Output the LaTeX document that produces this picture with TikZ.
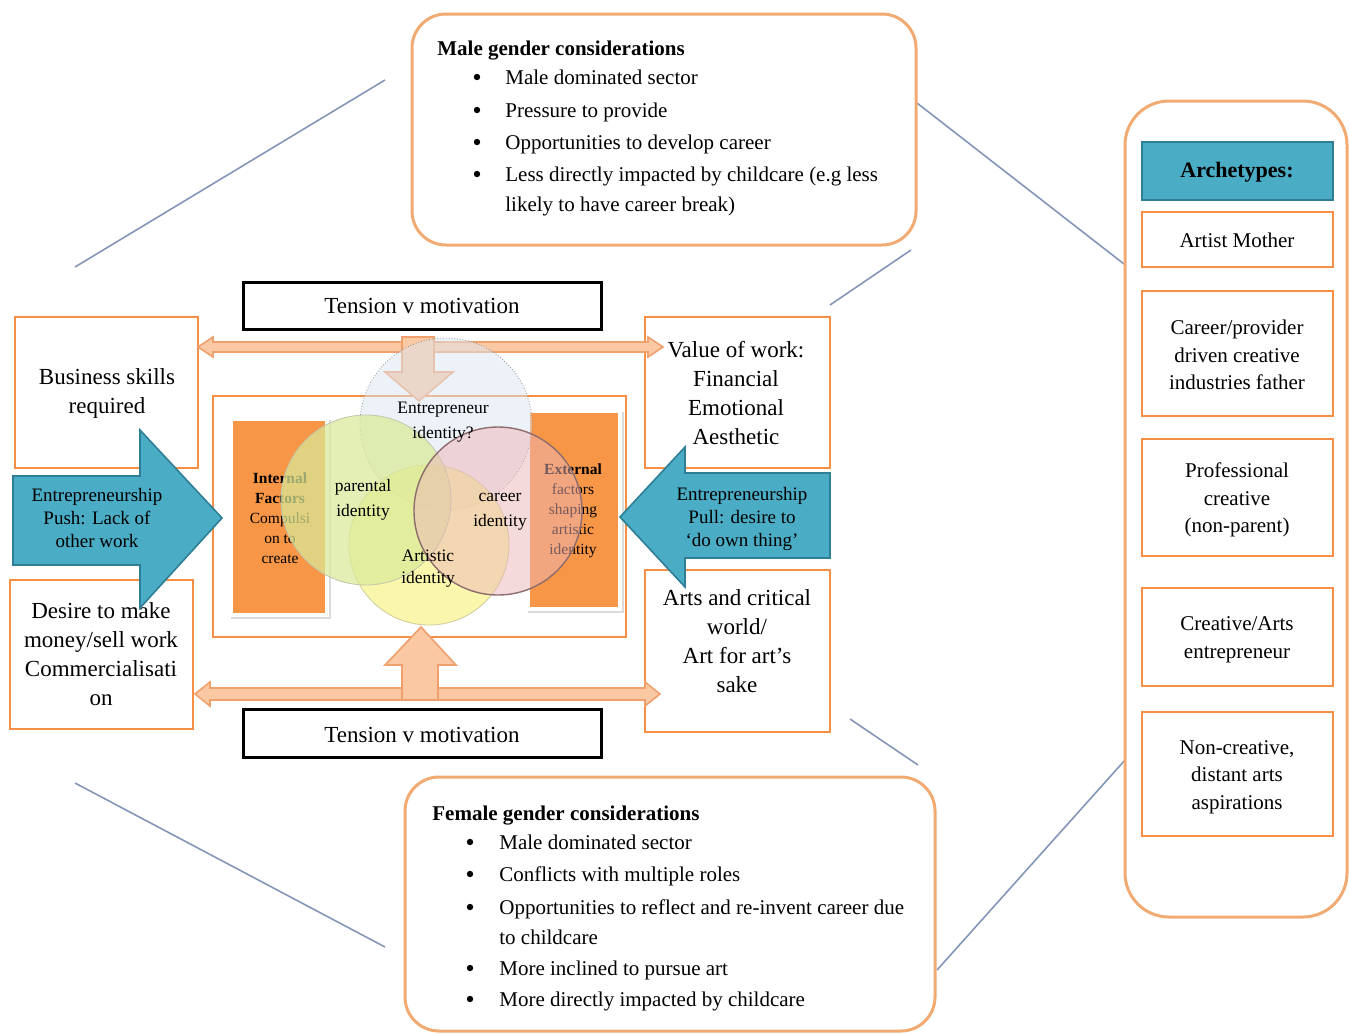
\documentclass[tikz,border=0pt]{standalone}
\usepackage{fontspec}
\setmainfont{Liberation Serif}
\usetikzlibrary{fit}

\definecolor{frameorange}{HTML}{F0AA72}
\definecolor{boxorange}{HTML}{F58F45}
\definecolor{fillorange}{HTML}{F79646}
\definecolor{tealfill}{HTML}{4BACC6}
\definecolor{tealline}{HTML}{2E7F95}
\definecolor{peachfill}{HTML}{FAC8A2}
\definecolor{peachline}{HTML}{EFA06C}
\definecolor{linkblue}{HTML}{8496B8}
\definecolor{entfill}{HTML}{DCE6F2}
\definecolor{parfill}{HTML}{D9EA98}
\definecolor{artfill}{HTML}{F8F480}
\definecolor{carfill}{HTML}{EDB6B8}

\newcommand\bitem[5]{%
  \node[bul] at (#2,#4) {};
  \node[item] (#1) at (#3,#4) {#5};}

\begin{document}
\begin{tikzpicture}[x=0.5pt,y=-0.5pt,
  frame/.style={draw=frameorange, line width=1.5pt, rounded corners=17pt, fill=white, inner sep=0pt},
  obox/.style={draw=boxorange, line width=1.4pt, fill=white, inner sep=0pt},
  tbox/.style={draw=black, line width=1.5pt, fill=white, inner sep=0pt},
  abox/.style={draw=boxorange, line width=1.4pt, fill=white, inner sep=0pt},
  atxt/.style={align=center, inner sep=0pt, font=\fontsize{10.5}{13.75}\selectfont},
  btxt/.style={align=center, inner sep=0pt, font=\fontsize{11.5}{14.5}\selectfont},
  ttxt/.style={align=center, inner sep=0pt, font=\fontsize{9.5}{11.5}\selectfont},
  ctxt/.style={align=center, inner sep=0pt, font=\fontsize{8.75}{12.5}\selectfont},
  rtxt/.style={align=center, inner sep=0pt, font=\fontsize{7.75}{10}\selectfont},
  head/.style={anchor=west, inner sep=0pt, text height=0.7em, text depth=0pt,
    font=\fontsize{10.5}{13}\selectfont\bfseries},
  item/.style={anchor=west, inner sep=0pt, text height=0.7em, text depth=0pt,
    font=\fontsize{10.5}{13}\selectfont},
  bul/.style={circle, fill=black, inner sep=0pt, minimum size=3.2pt},
  link/.style={draw=linkblue, line width=0.8pt},
  peach/.style={fill=peachfill, draw=peachline, line width=0.8pt},
  tealarrow/.style={fill=tealfill, draw=tealline, line width=0.8pt},
  venn/.style={circle, inner sep=0pt, minimum size=#1}
]
\useasboundingbox (0,0) rectangle (1349,1034);

% thin connecting lines between the gender panels and the rest
\coordinate (l1a) at (75,267);   \coordinate (l1b) at (385,80);
\coordinate (l2a) at (917,103);  \coordinate (l2b) at (1124,264);
\coordinate (l3a) at (830,305);  \coordinate (l3b) at (911,250);
\coordinate (l4a) at (75,783);   \coordinate (l4b) at (385,947);
\coordinate (l5a) at (850,719);  \coordinate (l5b) at (918,765);
\coordinate (l6a) at (937,970);  \coordinate (l6b) at (1125,760);
\foreach \a/\b in {l1a/l1b,l2a/l2b,l3a/l3b,l4a/l4b,l5a/l5b,l6a/l6b}
  \draw[link] (\a) -- (\b);

% male gender panel
\node[frame, fit={(412,14) (916,245)}] (male) {};
\node[head] (maletitle) at (437,48) {Male gender considerations};
\bitem{m1}{477}{505}{77}{Male dominated sector}
\bitem{m2}{477}{505}{110}{Pressure to provide}
\bitem{m3}{477}{505}{142}{Opportunities to develop career}
\bitem{m4}{477}{505}{174}{Less directly impacted by childcare (e.g less}
\node[item] (m4b) at (505,204) {likely to have career break)};

% female gender panel
\node[frame, fit={(405,777) (935,1031)}] (female) {};
\node[head] (femaletitle) at (432,813) {Female gender considerations};
\bitem{f1}{470}{499}{842}{Male dominated sector}
\bitem{f2}{470}{499}{874}{Conflicts with multiple roles}
\bitem{f3}{470}{499}{907}{Opportunities to reflect and re-invent career due}
\node[item] (f3b) at (499,937) {to childcare};
\bitem{f4}{470}{499}{968}{More inclined to pursue art}
\bitem{f5}{470}{499}{999}{More directly impacted by childcare}

% archetypes column
\node[frame, rounded corners=22pt, fit={(1125,101) (1347,917)}] (arch) {};
\node[fill=tealfill, draw=tealline, line width=0.8pt, inner sep=0pt, fit={(1142,142) (1333,200)}] (archhead) {};
\node[inner sep=0pt, font=\fontsize{11}{13}\selectfont\bfseries] at (1237,172) {Archetypes:};
\node[abox, fit={(1142,212) (1333,267)}] (a1) {};
\node[atxt] at (1237,240) {Artist Mother};
\node[abox, fit={(1142,291) (1333,416)}] (a2) {};
\node[atxt] at (1237,355) {Career/provider\\driven creative\\industries father};
\node[abox, fit={(1142,439) (1333,556)}] (a3) {};
\node[atxt] at (1237,500) {Professional\\creative\\(non-parent)};
\node[abox, fit={(1142,588) (1333,686)}] (a4) {};
\node[atxt] at (1237,640) {Creative/Arts\\entrepreneur};
\node[abox, fit={(1142,712) (1333,836)}] (a5) {};
\node[atxt] at (1237,777) {Non-creative,\\distant arts\\aspirations};

% side boxes
\node[obox, fit={(15,317) (198,468)}] (biz) {};
\node[btxt] at (107,393) {Business skills\\required};
\node[obox, fit={(10,580) (193,729)}] (desire) {};
\node[btxt] at (101,654) {Desire to make\\money/sell work\\Commercialisati\\on};
\node[obox, fit={(645,317) (830,468)}] (value) {};
\node[btxt] at (736,393) {Value of work:\\Financial\\Emotional\\Aesthetic};
\node[obox, fit={(645,570) (830,732)}] (arts) {};
\node[btxt] at (737,641) {Arts and critical\\world/\\Art for art’s\\sake};

% tension boxes
\node[tbox, fit={(243,282) (601,329)}] (tentop) {};
\node[inner sep=0pt, font=\fontsize{11.5}{14}\selectfont] at (tentop.center) {Tension v motivation};
\node[tbox, fit={(243,709) (601,757)}] (tenbot) {};
\node[inner sep=0pt, font=\fontsize{11.5}{14}\selectfont] at ([yshift=-1pt]tenbot.center) {Tension v motivation};

% central panel with the two factor blocks
\node[draw=boxorange, line width=1.2pt, fill=white, inner sep=0pt, fit={(213,396) (626,637)}] (core) {};
\fill[black!14] (231,420) rectangle (331,619);
\fill[black!14] (528,412) rectangle (624,613);
\node[fill=white, inner sep=0pt, fit={(229,417) (329,617)}] (intframe) {};
\node[fill=fillorange, inner sep=0pt, fit={(233,421) (325,613)}] (internal) {};
\node[fill=white, inner sep=0pt, fit={(526,410) (622,611)}] (extframe) {};
\node[fill=fillorange, inner sep=0pt, fit={(530,413) (618,607)}] (external) {};
\node[rtxt] at (280,518) {\textbf{Internal}\\\textbf{Factors}\\Compulsi\\on to\\create};
\node[rtxt] at (573,511) {\textbf{External}\\factors\\shaping\\artistic\\identity};

% tension arrows
\draw[peach] (198,347) -- (213,337) -- (213,342) -- (648,342) -- (648,337) -- (663,347)
  -- (648,357) -- (648,352) -- (213,352) -- (213,357) -- cycle;
\draw[peach] (195,694) -- (210,682) -- (210,688) -- (645,688) -- (645,682) -- (660,694)
  -- (645,706) -- (645,700) -- (210,700) -- (210,706) -- cycle;
\draw[peach] (402,337) -- (434,337) -- (434,372) -- (453,372) -- (419,401) -- (385,372)
  -- (402,372) -- cycle;
\draw[peach] (402,700) -- (438,700) -- (438,665) -- (456,665) -- (421,627) -- (385,665)
  -- (402,665) -- cycle;

% identity circles
\node[venn=86pt, draw=black!45, densely dotted, fill=entfill, fill opacity=0.5] (ent) at (446,424) {};
\node[venn=80pt, draw=artfill!70!black!60, fill=artfill, fill opacity=0.65] (art) at (429,545) {};
\node[venn=85pt, draw=parfill!60!black!50, fill=parfill, fill opacity=0.72] (par) at (366,500) {};
\node[venn=84pt, draw=carfill!60!black, line width=0.7pt, fill=carfill, fill opacity=0.5] (car) at (498,511) {};
\node[ctxt] at (443,422) {Entrepreneur\\identity?};
\node[ctxt] at (363,500) {parental\\identity};
\node[ctxt] at (500,512) {career\\identity};
\node[ctxt, font=\fontsize{8.75}{11}\selectfont] at (428,569) {Artistic\\identity};

% push and pull arrows
\draw[tealarrow] (13,476) -- (140,476) -- (140,430) -- (222,518) -- (140,608) -- (140,565)
  -- (13,565) -- cycle;
\node[ttxt] (push) at (97,518) {Entrepreneurship\\Push: Lack of\\other work};
\draw[tealarrow] (830,473) -- (685,473) -- (685,447) -- (620,517) -- (685,587) -- (685,558)
  -- (830,558) -- cycle;
\node[ttxt] (pull) at (742,519) {Entrepreneurship\\Pull: desire to\\‘do own thing’};
\end{tikzpicture}
\end{document}
